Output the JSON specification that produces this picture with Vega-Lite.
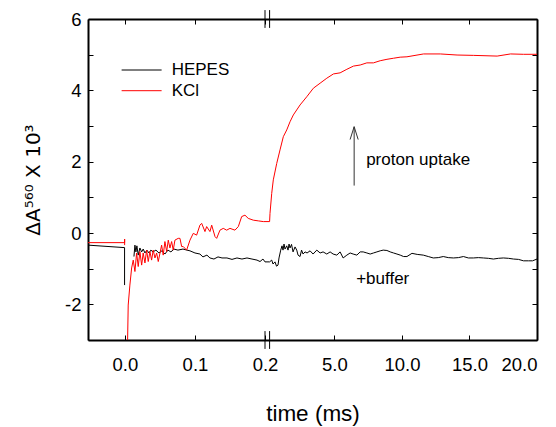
{
  "$schema": "https://vega.github.io/schema/vega-lite/v6.json",
  "width": 449,
  "height": 321,
  "autosize": "none",
  "padding": {"left": 88, "top": 19, "right": 19, "bottom": 87},
  "config": {
    "font": "Liberation Sans",
    "view": {"stroke": null},
    "axis": {
      "domainColor": "black", "domainWidth": 2, "tickColor": "black", "tickSize": -5, "tickWidth": 1,
      "grid": false, "labelColor": "black", "labelFont": "Liberation Sans", "labelFontSize": 18.5,
      "titleFont": "Liberation Sans", "titleFontWeight": "normal", "titleColor": "black"
    }
  },
  "resolve": {"axis": {"x": "independent", "y": "independent"}},
  "datasets": {
    "curves": [
      {"s":"HEPES","g":"H0","i":0,"t":-0.0527,"v":-0.34},
      {"s":"HEPES","g":"H0","i":1,"t":-0.0005,"v":-0.41},
      {"s":"HEPES","g":"H0","i":2,"t":-0.0005,"v":-1.46},
      {"s":"HEPES","g":"H1","i":0,"t":0.0129,"v":-0.66},
      {"s":"HEPES","g":"H1","i":1,"t":0.0143,"v":-0.34},
      {"s":"HEPES","g":"H1","i":2,"t":0.0157,"v":-0.53},
      {"s":"HEPES","g":"H1","i":3,"t":0.0171,"v":-0.36},
      {"s":"HEPES","g":"H1","i":4,"t":0.019,"v":-0.62},
      {"s":"HEPES","g":"H1","i":5,"t":0.0214,"v":-0.42},
      {"s":"HEPES","g":"H1","i":6,"t":0.0239,"v":-0.53},
      {"s":"HEPES","g":"H1","i":7,"t":0.0261,"v":-0.45},
      {"s":"HEPES","g":"H1","i":8,"t":0.0286,"v":-0.56},
      {"s":"HEPES","g":"H1","i":9,"t":0.0314,"v":-0.48},
      {"s":"HEPES","g":"H1","i":10,"t":0.0343,"v":-0.56},
      {"s":"HEPES","g":"H1","i":11,"t":0.0371,"v":-0.48},
      {"s":"HEPES","g":"H1","i":12,"t":0.04,"v":-0.53},
      {"s":"HEPES","g":"H1","i":13,"t":0.0443,"v":-0.48},
      {"s":"HEPES","g":"H1","i":14,"t":0.0486,"v":-0.56},
      {"s":"HEPES","g":"H1","i":15,"t":0.0529,"v":-0.50},
      {"s":"HEPES","g":"H1","i":16,"t":0.0571,"v":-0.59},
      {"s":"HEPES","g":"H1","i":17,"t":0.0614,"v":-0.48},
      {"s":"HEPES","g":"H1","i":18,"t":0.0657,"v":-0.53},
      {"s":"HEPES","g":"H1","i":19,"t":0.07,"v":-0.45},
      {"s":"HEPES","g":"H1","i":20,"t":0.0757,"v":-0.48},
      {"s":"HEPES","g":"H1","i":21,"t":0.0829,"v":-0.45},
      {"s":"HEPES","g":"H1","i":22,"t":0.0886,"v":-0.48},
      {"s":"HEPES","g":"H1","i":23,"t":0.0929,"v":-0.50},
      {"s":"HEPES","g":"H1","i":24,"t":0.1,"v":-0.56},
      {"s":"HEPES","g":"H1","i":25,"t":0.1071,"v":-0.59},
      {"s":"HEPES","g":"H1","i":26,"t":0.1114,"v":-0.67},
      {"s":"HEPES","g":"H1","i":27,"t":0.1171,"v":-0.62},
      {"s":"HEPES","g":"H1","i":28,"t":0.1214,"v":-0.70},
      {"s":"HEPES","g":"H1","i":29,"t":0.1271,"v":-0.73},
      {"s":"HEPES","g":"H1","i":30,"t":0.1329,"v":-0.67},
      {"s":"HEPES","g":"H1","i":31,"t":0.1386,"v":-0.70},
      {"s":"HEPES","g":"H1","i":32,"t":0.1457,"v":-0.70},
      {"s":"HEPES","g":"H1","i":33,"t":0.1529,"v":-0.74},
      {"s":"HEPES","g":"H1","i":34,"t":0.16,"v":-0.70},
      {"s":"HEPES","g":"H1","i":35,"t":0.1671,"v":-0.73},
      {"s":"HEPES","g":"H1","i":36,"t":0.1743,"v":-0.70},
      {"s":"HEPES","g":"H1","i":37,"t":0.1814,"v":-0.73},
      {"s":"HEPES","g":"H1","i":38,"t":0.1886,"v":-0.76},
      {"s":"HEPES","g":"H1","i":39,"t":0.1929,"v":-0.80},
      {"s":"HEPES","g":"H1","i":40,"t":0.1971,"v":-0.73},
      {"s":"HEPES","g":"H1","i":41,"t":0.2,"v":-0.81},
      {"s":"HEPES","g":"H1","i":42,"t":0.2001,"v":-0.81},
      {"s":"HEPES","g":"H1","i":43,"t":0.356,"v":-0.76},
      {"s":"HEPES","g":"H1","i":44,"t":0.452,"v":-0.87},
      {"s":"HEPES","g":"H1","i":45,"t":0.6,"v":-0.81},
      {"s":"HEPES","g":"H1","i":46,"t":0.712,"v":-0.93},
      {"s":"HEPES","g":"H1","i":47,"t":0.823,"v":-0.90},
      {"s":"HEPES","g":"H1","i":48,"t":0.897,"v":-0.70},
      {"s":"HEPES","g":"H1","i":49,"t":1.023,"v":-0.48},
      {"s":"HEPES","g":"H1","i":50,"t":1.12,"v":-0.36},
      {"s":"HEPES","g":"H1","i":51,"t":1.194,"v":-0.48},
      {"s":"HEPES","g":"H1","i":52,"t":1.268,"v":-0.31},
      {"s":"HEPES","g":"H1","i":53,"t":1.342,"v":-0.45},
      {"s":"HEPES","g":"H1","i":54,"t":1.469,"v":-0.36},
      {"s":"HEPES","g":"H1","i":55,"t":1.565,"v":-0.48},
      {"s":"HEPES","g":"H1","i":56,"t":1.64,"v":-0.31},
      {"s":"HEPES","g":"H1","i":57,"t":1.713,"v":-0.42},
      {"s":"HEPES","g":"H1","i":58,"t":1.825,"v":-0.32},
      {"s":"HEPES","g":"H1","i":59,"t":1.936,"v":-0.53},
      {"s":"HEPES","g":"H1","i":60,"t":2.084,"v":-0.39},
      {"s":"HEPES","g":"H1","i":61,"t":2.21,"v":-0.48},
      {"s":"HEPES","g":"H1","i":62,"t":2.307,"v":-0.62},
      {"s":"HEPES","g":"H1","i":63,"t":2.455,"v":-0.66},
      {"s":"HEPES","g":"H1","i":64,"t":2.566,"v":-0.48},
      {"s":"HEPES","g":"H1","i":65,"t":2.678,"v":-0.59},
      {"s":"HEPES","g":"H1","i":66,"t":2.826,"v":-0.53},
      {"s":"HEPES","g":"H1","i":67,"t":2.975,"v":-0.56},
      {"s":"HEPES","g":"H1","i":68,"t":3.197,"v":-0.50},
      {"s":"HEPES","g":"H1","i":69,"t":3.42,"v":-0.59},
      {"s":"HEPES","g":"H1","i":70,"t":3.694,"v":-0.48},
      {"s":"HEPES","g":"H1","i":71,"t":3.939,"v":-0.56},
      {"s":"HEPES","g":"H1","i":72,"t":4.161,"v":-0.53},
      {"s":"HEPES","g":"H1","i":73,"t":4.436,"v":-0.59},
      {"s":"HEPES","g":"H1","i":74,"t":4.681,"v":-0.53},
      {"s":"HEPES","g":"H1","i":75,"t":4.903,"v":-0.59},
      {"s":"HEPES","g":"H1","i":76,"t":5.178,"v":-0.62},
      {"s":"HEPES","g":"H1","i":77,"t":5.42,"v":-0.53},
      {"s":"HEPES","g":"H1","i":78,"t":5.645,"v":-0.70},
      {"s":"HEPES","g":"H1","i":79,"t":5.92,"v":-0.62},
      {"s":"HEPES","g":"H1","i":80,"t":6.164,"v":-0.56},
      {"s":"HEPES","g":"H1","i":81,"t":6.387,"v":-0.59},
      {"s":"HEPES","g":"H1","i":82,"t":6.661,"v":-0.62},
      {"s":"HEPES","g":"H1","i":83,"t":6.906,"v":-0.53},
      {"s":"HEPES","g":"H1","i":84,"t":7.13,"v":-0.53},
      {"s":"HEPES","g":"H1","i":85,"t":7.403,"v":-0.56},
      {"s":"HEPES","g":"H1","i":86,"t":7.648,"v":-0.59},
      {"s":"HEPES","g":"H1","i":87,"t":7.893,"v":-0.56},
      {"s":"HEPES","g":"H1","i":88,"t":8.145,"v":-0.53},
      {"s":"HEPES","g":"H1","i":89,"t":8.39,"v":-0.50},
      {"s":"HEPES","g":"H1","i":90,"t":8.612,"v":-0.48},
      {"s":"HEPES","g":"H1","i":91,"t":8.887,"v":-0.49},
      {"s":"HEPES","g":"H1","i":92,"t":9.13,"v":-0.53},
      {"s":"HEPES","g":"H1","i":93,"t":9.377,"v":-0.56},
      {"s":"HEPES","g":"H1","i":94,"t":9.629,"v":-0.59},
      {"s":"HEPES","g":"H1","i":95,"t":9.874,"v":-0.62},
      {"s":"HEPES","g":"H1","i":96,"t":10.12,"v":-0.66},
      {"s":"HEPES","g":"H1","i":97,"t":10.37,"v":-0.66},
      {"s":"HEPES","g":"H1","i":98,"t":10.74,"v":-0.57},
      {"s":"HEPES","g":"H1","i":99,"t":11.13,"v":-0.60},
      {"s":"HEPES","g":"H1","i":100,"t":11.58,"v":-0.62},
      {"s":"HEPES","g":"H1","i":101,"t":11.95,"v":-0.66},
      {"s":"HEPES","g":"H1","i":102,"t":12.32,"v":-0.70},
      {"s":"HEPES","g":"H1","i":103,"t":12.69,"v":-0.69},
      {"s":"HEPES","g":"H1","i":104,"t":13.06,"v":-0.66},
      {"s":"HEPES","g":"H1","i":105,"t":13.43,"v":-0.69},
      {"s":"HEPES","g":"H1","i":106,"t":13.81,"v":-0.70},
      {"s":"HEPES","g":"H1","i":107,"t":14.18,"v":-0.69},
      {"s":"HEPES","g":"H1","i":108,"t":14.55,"v":-0.66},
      {"s":"HEPES","g":"H1","i":109,"t":14.92,"v":-0.70},
      {"s":"HEPES","g":"H1","i":110,"t":15.29,"v":-0.70},
      {"s":"HEPES","g":"H1","i":111,"t":15.66,"v":-0.69},
      {"s":"HEPES","g":"H1","i":112,"t":16.03,"v":-0.70},
      {"s":"HEPES","g":"H1","i":113,"t":16.40,"v":-0.71},
      {"s":"HEPES","g":"H1","i":114,"t":16.77,"v":-0.73},
      {"s":"HEPES","g":"H1","i":115,"t":17.14,"v":-0.71},
      {"s":"HEPES","g":"H1","i":116,"t":17.51,"v":-0.70},
      {"s":"HEPES","g":"H1","i":117,"t":17.89,"v":-0.71},
      {"s":"HEPES","g":"H1","i":118,"t":18.26,"v":-0.73},
      {"s":"HEPES","g":"H1","i":119,"t":18.63,"v":-0.74},
      {"s":"HEPES","g":"H1","i":120,"t":19.0,"v":-0.78},
      {"s":"HEPES","g":"H1","i":121,"t":19.37,"v":-0.78},
      {"s":"HEPES","g":"H1","i":122,"t":19.67,"v":-0.78},
      {"s":"HEPES","g":"H1","i":123,"t":20.0,"v":-0.73},
      {"s":"KCl","g":"R0","i":0,"t":-0.0527,"v":-0.27},
      {"s":"KCl","g":"R0","i":1,"t":-0.0004,"v":-0.27},
      {"s":"KCl","g":"R0","i":2,"t":-0.0004,"v":-0.17},
      {"s":"KCl","g":"R0","i":3,"t":-0.0004,"v":-0.34},
      {"s":"KCl","g":"R1","i":0,"t":0.0035,"v":-3.4},
      {"s":"KCl","g":"R1","i":1,"t":0.0047,"v":-2.02},
      {"s":"KCl","g":"R1","i":2,"t":0.0071,"v":-1.46},
      {"s":"KCl","g":"R1","i":3,"t":0.0096,"v":-0.98},
      {"s":"KCl","g":"R1","i":4,"t":0.0119,"v":-0.76},
      {"s":"KCl","g":"R1","i":5,"t":0.0143,"v":-1.08},
      {"s":"KCl","g":"R1","i":6,"t":0.0167,"v":-0.56},
      {"s":"KCl","g":"R1","i":7,"t":0.019,"v":-0.94},
      {"s":"KCl","g":"R1","i":8,"t":0.0214,"v":-0.52},
      {"s":"KCl","g":"R1","i":9,"t":0.0239,"v":-0.90},
      {"s":"KCl","g":"R1","i":10,"t":0.0261,"v":-0.56},
      {"s":"KCl","g":"R1","i":11,"t":0.0286,"v":-0.84},
      {"s":"KCl","g":"R1","i":12,"t":0.031,"v":-0.48},
      {"s":"KCl","g":"R1","i":13,"t":0.0333,"v":-0.80},
      {"s":"KCl","g":"R1","i":14,"t":0.0357,"v":-0.52},
      {"s":"KCl","g":"R1","i":15,"t":0.0381,"v":-0.76},
      {"s":"KCl","g":"R1","i":16,"t":0.0404,"v":-0.48},
      {"s":"KCl","g":"R1","i":17,"t":0.0429,"v":-0.70},
      {"s":"KCl","g":"R1","i":18,"t":0.0453,"v":-0.56},
      {"s":"KCl","g":"R1","i":19,"t":0.0476,"v":-0.80},
      {"s":"KCl","g":"R1","i":20,"t":0.0524,"v":-0.34},
      {"s":"KCl","g":"R1","i":21,"t":0.0547,"v":-0.62},
      {"s":"KCl","g":"R1","i":22,"t":0.0571,"v":-0.24},
      {"s":"KCl","g":"R1","i":23,"t":0.0596,"v":-0.52},
      {"s":"KCl","g":"R1","i":24,"t":0.0619,"v":-0.20},
      {"s":"KCl","g":"R1","i":25,"t":0.0643,"v":-0.42},
      {"s":"KCl","g":"R1","i":26,"t":0.0667,"v":-0.24},
      {"s":"KCl","g":"R1","i":27,"t":0.069,"v":-0.48},
      {"s":"KCl","g":"R1","i":28,"t":0.0714,"v":-0.20},
      {"s":"KCl","g":"R1","i":29,"t":0.0761,"v":-0.15},
      {"s":"KCl","g":"R1","i":30,"t":0.0786,"v":-0.15},
      {"s":"KCl","g":"R1","i":31,"t":0.081,"v":-0.38},
      {"s":"KCl","g":"R1","i":32,"t":0.0833,"v":-0.38},
      {"s":"KCl","g":"R1","i":33,"t":0.0881,"v":-0.48},
      {"s":"KCl","g":"R1","i":34,"t":0.0929,"v":-0.20},
      {"s":"KCl","g":"R1","i":35,"t":0.0976,"v":-0.01},
      {"s":"KCl","g":"R1","i":36,"t":0.1024,"v":-0.06},
      {"s":"KCl","g":"R1","i":37,"t":0.1071,"v":0.22},
      {"s":"KCl","g":"R1","i":38,"t":0.1096,"v":0.27},
      {"s":"KCl","g":"R1","i":39,"t":0.1143,"v":0.04},
      {"s":"KCl","g":"R1","i":40,"t":0.1167,"v":0.18},
      {"s":"KCl","g":"R1","i":41,"t":0.1214,"v":0.04},
      {"s":"KCl","g":"R1","i":42,"t":0.1239,"v":0.22},
      {"s":"KCl","g":"R1","i":43,"t":0.1286,"v":-0.10},
      {"s":"KCl","g":"R1","i":44,"t":0.131,"v":-0.15},
      {"s":"KCl","g":"R1","i":45,"t":0.1357,"v":0.08},
      {"s":"KCl","g":"R1","i":46,"t":0.1404,"v":0.13},
      {"s":"KCl","g":"R1","i":47,"t":0.1453,"v":0.08},
      {"s":"KCl","g":"R1","i":48,"t":0.15,"v":0.13},
      {"s":"KCl","g":"R1","i":49,"t":0.1571,"v":0.08},
      {"s":"KCl","g":"R1","i":50,"t":0.1619,"v":0.18},
      {"s":"KCl","g":"R1","i":51,"t":0.1667,"v":0.46},
      {"s":"KCl","g":"R1","i":52,"t":0.1714,"v":0.50},
      {"s":"KCl","g":"R1","i":53,"t":0.1761,"v":0.41},
      {"s":"KCl","g":"R1","i":54,"t":0.1833,"v":0.36},
      {"s":"KCl","g":"R1","i":55,"t":0.1904,"v":0.34},
      {"s":"KCl","g":"R1","i":56,"t":0.1976,"v":0.32},
      {"s":"KCl","g":"R1","i":57,"t":0.2,"v":0.32},
      {"s":"KCl","g":"R1","i":58,"t":0.2001,"v":0.32},
      {"s":"KCl","g":"R1","i":59,"t":0.23,"v":0.55},
      {"s":"KCl","g":"R1","i":60,"t":0.356,"v":1.11},
      {"s":"KCl","g":"R1","i":61,"t":0.474,"v":1.49},
      {"s":"KCl","g":"R1","i":62,"t":0.727,"v":1.95},
      {"s":"KCl","g":"R1","i":63,"t":0.972,"v":2.33},
      {"s":"KCl","g":"R1","i":64,"t":1.216,"v":2.70},
      {"s":"KCl","g":"R1","i":65,"t":1.469,"v":2.89},
      {"s":"KCl","g":"R1","i":66,"t":1.713,"v":3.12},
      {"s":"KCl","g":"R1","i":67,"t":1.958,"v":3.31},
      {"s":"KCl","g":"R1","i":68,"t":2.455,"v":3.59},
      {"s":"KCl","g":"R1","i":69,"t":2.952,"v":3.82},
      {"s":"KCl","g":"R1","i":70,"t":3.442,"v":4.06},
      {"s":"KCl","g":"R1","i":71,"t":3.939,"v":4.20},
      {"s":"KCl","g":"R1","i":72,"t":4.436,"v":4.34},
      {"s":"KCl","g":"R1","i":73,"t":4.926,"v":4.46},
      {"s":"KCl","g":"R1","i":74,"t":5.42,"v":4.49},
      {"s":"KCl","g":"R1","i":75,"t":5.92,"v":4.59},
      {"s":"KCl","g":"R1","i":76,"t":6.41,"v":4.68},
      {"s":"KCl","g":"R1","i":77,"t":6.91,"v":4.71},
      {"s":"KCl","g":"R1","i":78,"t":7.40,"v":4.77},
      {"s":"KCl","g":"R1","i":79,"t":7.89,"v":4.77},
      {"s":"KCl","g":"R1","i":80,"t":8.39,"v":4.83},
      {"s":"KCl","g":"R1","i":81,"t":8.89,"v":4.87},
      {"s":"KCl","g":"R1","i":82,"t":9.38,"v":4.90},
      {"s":"KCl","g":"R1","i":83,"t":9.87,"v":4.93},
      {"s":"KCl","g":"R1","i":84,"t":10.37,"v":4.94},
      {"s":"KCl","g":"R1","i":85,"t":11.60,"v":5.02},
      {"s":"KCl","g":"R1","i":86,"t":12.84,"v":5.02},
      {"s":"KCl","g":"R1","i":87,"t":14.08,"v":4.99},
      {"s":"KCl","g":"R1","i":88,"t":15.31,"v":4.98},
      {"s":"KCl","g":"R1","i":89,"t":17.05,"v":4.96},
      {"s":"KCl","g":"R1","i":90,"t":18.04,"v":5.02},
      {"s":"KCl","g":"R1","i":91,"t":19.0,"v":5.01},
      {"s":"KCl","g":"R1","i":92,"t":20.0,"v":5.01}
    ],
    "breaks": [
      {"t":0.2,"v":-3.25,"v2":-2.75},
      {"t":0.2001,"v":-3.25,"v2":-2.75},
      {"t":0.2,"v":5.75,"v2":6.25},
      {"t":0.2001,"v":5.75,"v2":6.25}
    ],
    "legend": [
      {"s":"HEPES","t":-0.0047,"t2":0.0524,"v":4.57},
      {"s":"KCl","t":-0.0047,"t2":0.0524,"v":3.99}
    ],
    "texts": [
      {"t":0.0667,"v":4.57,"label":"HEPES"},
      {"t":0.0667,"v":3.99,"label":"KCl"},
      {"t":7.35,"v":2.05,"label":"proton uptake"},
      {"t":6.61,"v":-1.29,"label":"+buffer"}
    ],
    "arrow": [
      {"g":"shaft","i":0,"t":6.46,"v":1.33},
      {"g":"shaft","i":1,"t":6.46,"v":2.98},
      {"g":"head","i":0,"t":6.16,"v":2.62},
      {"g":"head","i":1,"t":6.46,"v":2.98},
      {"g":"head","i":2,"t":6.76,"v":2.62}
    ]
  },
  "layer": [
    {
      "data": {"name": "curves"},
      "mark": {"type": "line", "strokeWidth": 1, "clip": true},
      "encoding": {
        "x": {
          "field": "t", "type": "quantitative",
          "scale": {"domain": [-0.0527, 0.2, 0.2001, 20], "range": [0, 177, 181.6, 449], "nice": false, "zero": false},
          "axis": {"orient": "bottom", "values": [0, 0.1, 0.2, 5, 10, 15, 20], "format": ".1f", "labelPadding": 20,
                   "title": "time (ms)", "titleFontSize": 22.5, "titlePadding": 29}
        },
        "y": {
          "field": "v", "type": "quantitative",
          "scale": {"domain": [-3, 6], "nice": false, "zero": false},
          "axis": {"orient": "left", "values": [-3, -2, -1, 0, 1, 2, 3, 4, 5, 6],
                   "labelExpr": "datum.value % 2 === 0 ? '' + datum.value : ''", "labelPadding": 12,
                   "title": "ΔA⁵⁶⁰ X 10³", "titleFont": "DejaVu Sans", "titleFontSize": 20, "titlePadding": 21}
        },
        "color": {"field": "s", "type": "nominal", "scale": {"domain": ["HEPES", "KCl"], "range": ["#000000", "#ff0000"]}, "legend": null},
        "detail": {"field": "g"},
        "order": {"field": "i", "type": "quantitative"}
      }
    },
    {
      "data": {"name": "breaks"},
      "mark": {"type": "rule", "color": "black", "strokeWidth": 1},
      "encoding": {
        "x": {"field": "t", "type": "quantitative",
              "axis": {"orient": "top", "values": [0, 0.1, 0.2, 5, 10, 15, 20], "labels": false, "title": null}},
        "y": {"field": "v", "type": "quantitative",
              "axis": {"orient": "right", "values": [-3, -2, -1, 0, 1, 2, 3, 4, 5, 6], "labels": false, "title": null}},
        "y2": {"field": "v2"}
      }
    },
    {
      "data": {"name": "legend"},
      "mark": {"type": "rule", "strokeWidth": 1},
      "encoding": {
        "x": {"field": "t", "type": "quantitative", "axis": null},
        "x2": {"field": "t2"},
        "y": {"field": "v", "type": "quantitative", "axis": null},
        "color": {"field": "s", "type": "nominal", "legend": null}
      }
    },
    {
      "data": {"name": "texts"},
      "mark": {"type": "text", "align": "left", "baseline": "middle", "fontSize": 17, "font": "Liberation Sans", "color": "black"},
      "encoding": {
        "x": {"field": "t", "type": "quantitative", "axis": null},
        "y": {"field": "v", "type": "quantitative", "axis": null},
        "text": {"field": "label"}
      }
    },
    {
      "data": {"name": "arrow"},
      "mark": {"type": "line", "color": "#333333", "strokeWidth": 1},
      "encoding": {
        "x": {"field": "t", "type": "quantitative", "axis": null},
        "y": {"field": "v", "type": "quantitative", "axis": null},
        "detail": {"field": "g"},
        "order": {"field": "i", "type": "quantitative"}
      }
    }
  ]
}
